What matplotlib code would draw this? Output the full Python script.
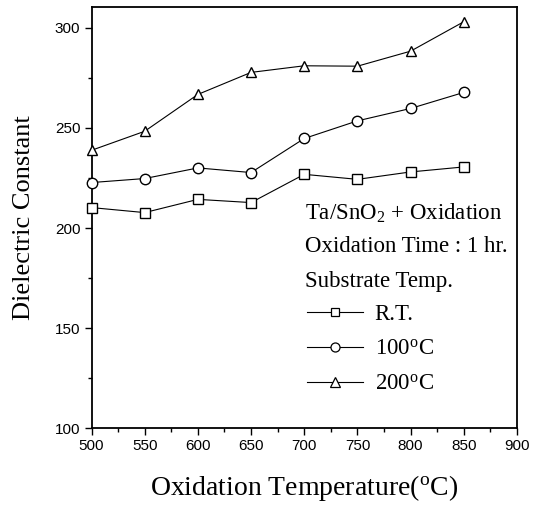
import matplotlib
matplotlib.use("Agg")
import matplotlib.pyplot as plt
from matplotlib.lines import Line2D
from matplotlib.ticker import MultipleLocator

plt.rcParams["mathtext.fontset"] = "custom"
plt.rcParams["mathtext.rm"] = "Liberation Serif"
plt.rcParams["mathtext.default"] = "rm"

# Oxidation temperature (deg C)
oxidation_temp = [500, 550, 600, 650, 700, 750, 800, 850]

# Dielectric constant for each substrate temperature
eps_rt = [210.2, 207.7, 214.3, 212.7, 226.8, 224.3, 228.0, 230.5]
eps_100 = [222.7, 224.7, 230.0, 227.7, 244.7, 253.5, 259.7, 267.7]
eps_200 = [238.8, 248.3, 266.7, 277.7, 281.0, 280.8, 288.3, 303.0]

series_labels = ["R.T.", "100$^{\\mathrm{o}}$C", "200$^{\\mathrm{o}}$C"]
series_markers = ["s", "o", "^"]

xticks = [500, 550, 600, 650, 700, 750, 800, 850, 900]
yticks = [100, 150, 200, 250, 300]

W, H = 537, 509
fig = plt.figure(figsize=(W / 100, H / 100), dpi=100)
ax = fig.add_axes([91.5 / W, 1 - 428.3 / H, (517 - 91.5) / W, (428.3 - 6.7) / H])

serif = "Liberation Serif"
sans = "Liberation Sans"

for ys, m in zip([eps_rt, eps_100, eps_200], series_markers):
    ax.plot(oxidation_temp, ys, color="black", lw=0.8, marker=m,
            markersize=7.5 if m != "s" else 6.5, markerfacecolor="white",
            markeredgecolor="black", markeredgewidth=1.0, clip_on=False, zorder=3)

ax.set_xlim(500, 900)
ax.set_ylim(100, 310.5)
ax.set_xticks(xticks)
ax.set_yticks(yticks)
ax.xaxis.set_minor_locator(MultipleLocator(25))
ax.yaxis.set_minor_locator(MultipleLocator(25))
ax.tick_params(which="both", direction="out", top=False, right=False, width=1.0)
ax.tick_params(which="major", length=5, labelsize=11, pad=3)
ax.tick_params(which="minor", length=3)
for lab in ax.get_xticklabels() + ax.get_yticklabels():
    lab.set_fontfamily(sans)
for sp in ax.spines.values():
    sp.set_linewidth(1.3)

ax.set_ylabel("Dielectric Constant", fontfamily=serif, fontsize=19, labelpad=14)
ax.set_xlabel("Oxidation Temperature($^{\\mathrm{o}}$C)", fontfamily=serif,
              fontsize=20, labelpad=14)

# Sample description
info = ["Ta/SnO$_{2}$ + Oxidation", "Oxidation Time : 1 hr.", "Substrate Temp."]
info_y = [213, 246, 281]
for t, y in zip(info, info_y):
    fig.text(305 / W, 1 - y / H, t, fontfamily=serif, fontsize=16.5,
             va="center", ha="left")

handles = [Line2D([], [], color="black", lw=0.8, marker=m,
                  markersize=6.5 if m != "s" else 6, markerfacecolor="white",
                  markeredgecolor="black", markeredgewidth=0.9)
           for m in series_markers]
leg = ax.legend(handles, series_labels, loc="upper left",
                bbox_to_anchor=(307 / W, 1 - 304 / H), bbox_transform=fig.transFigure,
                frameon=False, prop={"family": serif, "size": 16.5},
                handlelength=2.45, handletextpad=0.5, labelspacing=0.6,
                borderpad=0, borderaxespad=0)

fig.savefig("out.png", dpi=100)
